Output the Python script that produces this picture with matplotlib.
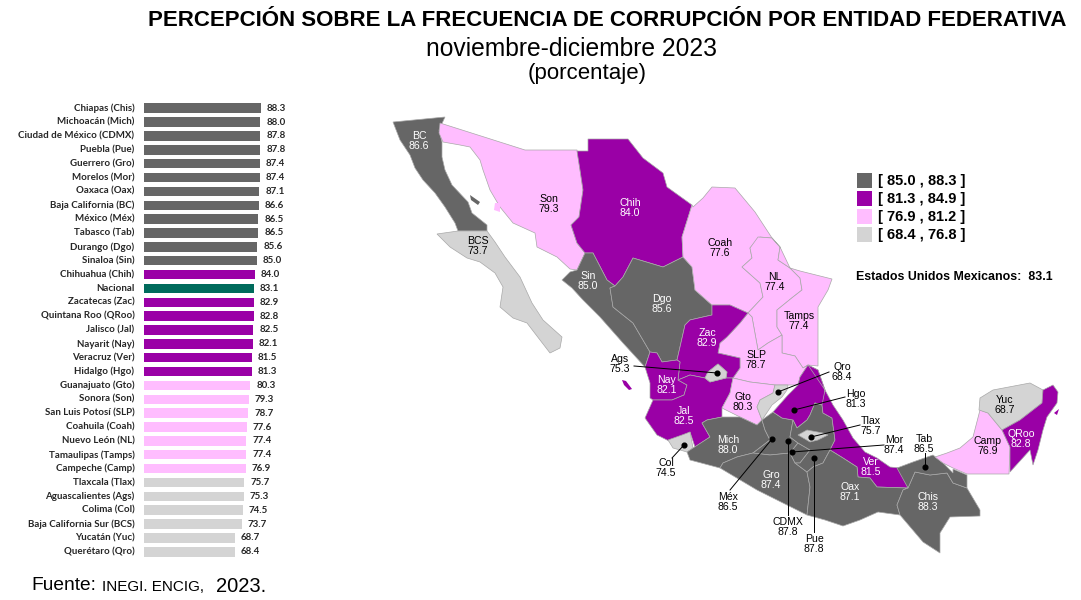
import matplotlib
matplotlib.use("Agg")
import matplotlib.pyplot as plt

plt.rcParams['font.family'] = ['Liberation Sans', 'DejaVu Sans']

# bar chart data
entidades = [
    'Chiapas (Chis)', 'Michoacán (Mich)', 'Ciudad de México (CDMX)', 'Puebla (Pue)',
    'Guerrero (Gro)', 'Morelos (Mor)', 'Oaxaca (Oax)', 'Baja California (BC)',
    'México (Méx)', 'Tabasco (Tab)', 'Durango (Dgo)', 'Sinaloa (Sin)',
    'Chihuahua (Chih)', 'Nacional', 'Zacatecas (Zac)', 'Quintana Roo (QRoo)',
    'Jalisco (Jal)', 'Nayarit (Nay)', 'Veracruz (Ver)', 'Hidalgo (Hgo)',
    'Guanajuato (Gto)', 'Sonora (Son)', 'San Luis Potosí (SLP)', 'Coahuila (Coah)',
    'Nuevo León (NL)', 'Tamaulipas (Tamps)', 'Campeche (Camp)', 'Tlaxcala (Tlax)',
    'Aguascalientes (Ags)', 'Colima (Col)', 'Baja California Sur (BCS)',
    'Yucatán (Yuc)', 'Querétaro (Qro)',
]
valores = [
    88.3, 88.0, 87.8, 87.8, 87.4, 87.4, 87.1, 86.6, 86.5, 86.5, 85.6, 85.0,
    84.0, 83.1, 82.9, 82.8, 82.5, 82.1, 81.5, 81.3, 80.3, 79.3, 78.7, 77.6,
    77.4, 77.4, 76.9, 75.7, 75.3, 74.5, 73.7, 68.7, 68.4,
]
nacional = 83.1
rangos = ['[ 85.0 , 88.3 ]', '[ 81.3 , 84.9 ]', '[ 76.9 , 81.2 ]', '[ 68.4 , 76.8 ]']
limites = [85.0, 81.3, 76.9, 68.4]
colores = ['#666666', '#9A00A6', '#FFBDFF', '#D4D4D4']
color_nacional = '#006B5C'

# map outlines (pixels)
contornos = {
    'BC': [(393,122),(445,117),(439,130),(442,142),(442,157),(445,170),(452,185),(468,202),(472,213),(487,225),(487,231),(458,231),(455,223),(445,207),(435,193),(423,180),(415,168),(410,155),(400,140)],
    'BCS': [(437,234),(458,231),(487,231),(495,242),(505,257),(520,277),(532,303),(543,320),(562,337),(560,348),(550,353),(540,340),(527,323),(513,318),(500,307),(503,287),(495,273),(480,262),(467,258),(450,247)],
    'Son': [(440,123),(525,150),(577,150),(580,170),(583,190),(579,217),(571,225),(577,243),(585,253),(577,270),(570,269),(557,257),(537,247),(535,233),(513,223),(500,207),(490,190),(483,170),(480,160),(470,147),(460,145),(443,142),(439,133)],
    'Chih': [(588,139),(628,139),(643,158),(663,173),(667,187),(692,205),(682,237),(683,257),(663,267),(633,258),(623,277),(615,286),(607,280),(593,253),(585,253),(577,243),(571,225),(579,217),(583,190),(580,170),(577,151),(588,151)],
    'Sin': [(593,253),(607,280),(615,286),(610,288),(613,307),(633,323),(650,352),(645,367),(623,343),(600,317),(583,300),(572,288),(562,280),(570,272),(577,270),(585,253)],
    'Dgo': [(615,286),(623,277),(633,258),(663,267),(683,257),(692,267),(695,290),(712,305),(712,315),(703,317),(690,320),(685,325),(680,347),(677,360),(662,362),(657,353),(650,352),(633,323),(613,307),(610,288)],
    'Coah': [(693,207),(703,198),(712,187),(735,188),(755,212),(772,238),(760,237),(750,248),(752,258),(742,267),(760,283),(763,297),(748,313),(730,305),(712,305),(695,290),(692,267),(683,257),(682,237),(692,205)],
    'NL': [(758,237),(772,238),(780,247),(778,260),(790,268),(800,278),(802,290),(793,297),(777,310),(777,327),(782,335),(768,343),(758,350),(752,317),(748,313),(763,297),(760,283),(742,267),(752,258),(750,248)],
    'Tamps': [(772,238),(780,247),(790,268),(800,271),(832,279),(828,290),(818,307),(818,350),(818,366),(808,365),(803,368),(795,356),(782,353),(782,335),(777,327),(777,310),(793,297),(802,290),(800,278),(790,268),(778,260),(780,247)],
    'SLP': [(748,313),(752,317),(758,350),(768,343),(782,335),(782,353),(795,356),(803,368),(808,365),(800,377),(798,385),(775,385),(750,382),(733,378),(740,368),(740,358),(718,353),(720,343),(727,337),(740,323)],
    'Zac': [(712,315),(712,305),(730,305),(748,313),(740,323),(727,337),(720,343),(718,353),(740,358),(740,368),(733,378),(726,378),(727,372),(718,364),(708,372),(705,378),(690,375),(678,380),(680,362),(677,360),(680,347),(685,325),(690,320),(703,317)],
    'Nay': [(650,352),(657,353),(662,362),(677,360),(680,362),(678,380),(687,385),(684,395),(672,400),(653,400),(650,398),(650,383),(645,367)],
    'Jal': [(645,418),(653,400),(672,400),(684,395),(687,385),(678,380),(690,375),(705,378),(710,382),(718,380),(726,378),(733,378),(730,393),(722,408),(722,417),(707,420),(702,423),(710,437),(695,447),(690,432),(673,443),(657,435)],
    'Ags': [(705,378),(708,372),(718,364),(727,372),(726,378),(718,380),(710,382)],
    'Col': [(668,440),(682,435),(690,432),(693,448),(687,452),(673,448)],
    'Gto': [(733,378),(750,382),(775,385),(773,393),(760,400),(757,407),(762,420),(757,425),(740,417),(722,408),(730,393)],
    'Qro': [(775,385),(788,385),(787,390),(782,397),(772,405),(762,420),(757,407),(760,400),(773,393)],
    'Mich': [(702,423),(707,420),(722,417),(740,417),(757,425),(762,420),(765,430),(770,440),(753,453),(737,457),(723,463),(720,468),(690,460),(687,452),(693,448),(710,437)],
    'Méx': [(762,420),(773,412),(782,418),(793,420),(790,437),(798,443),(790,453),(770,455),(753,453),(770,440),(765,430)],
    'Gro': [(720,468),(723,463),(737,457),(753,453),(770,455),(790,453),(795,463),(807,472),(810,487),(807,515),(757,490)],
    'Mor': [(790,453),(798,443),(810,450),(800,463),(795,463)],
    'Hgo': [(798,385),(800,377),(808,365),(818,370),(825,390),(823,405),(815,403),(810,415),(807,420),(797,428),(793,420),(782,418),(773,412),(788,395)],
    'Pue': [(815,403),(822,405),(823,413),(832,418),(835,440),(830,450),(823,463),(813,467),(807,472),(795,463),(800,463),(810,450),(798,443),(790,437),(793,420),(797,428),(807,420),(810,415)],
    'Tlax': [(798,435),(807,430),(823,433),(828,435),(818,440),(810,442)],
    'Ver': [(808,365),(818,370),(825,390),(833,405),(843,420),(853,438),(865,452),(877,458),(890,467),(900,468),(908,485),(907,488),(877,487),(870,478),(858,477),(857,467),(843,458),(830,450),(835,440),(832,418),(823,413),(822,405),(825,390)],
    'Oax': [(807,472),(813,467),(823,463),(830,450),(843,458),(857,467),(858,477),(870,478),(877,487),(907,488),(903,490),(897,505),(900,515),(878,512),(860,520),(843,526),(825,520),(807,515),(810,487)],
    'Chis': [(908,488),(915,472),(930,475),(947,473),(953,483),(967,488),(980,510),(980,516),(950,517),(940,533),(940,553),(923,542),(900,515),(897,505),(903,490)],
    'Tab': [(897,468),(913,462),(933,455),(943,463),(953,473),(953,469),(967,475),(967,488),(953,483),(947,473),(930,475),(915,472),(908,488)],
    'Camp': [(935,457),(947,453),(960,448),(973,437),(980,410),(988,413),(1002,430),(1010,447),(1009,474),(967,474),(953,468),(943,463)],
    'Yuc': [(979,410),(980,398),(993,390),(1030,383),(1043,390),(1042,403),(1020,420),(1002,430),(988,413)],
    'QRoo': [(1043,390),(1053,385),(1058,392),(1057,403),(1047,417),(1043,430),(1038,450),(1033,465),(1030,450),(1010,472),(1010,447),(1002,430),(1020,420),(1042,403)],
}
islas = {
    'BC': [[(470,195),(480,202),(478,205),(471,200)]],
    'Son': [[(495,203),(500,203),(500,212),(494,210)]],
    'Nay': [[(622,380),(626,381),(632,389),(629,390),(624,385)]],
    'QRoo': [[(1054,413),(1059,409),(1057,415)]],
}

# label: name, x, y of the two lines' centre, text colour
etiquetas = [
    ('BC', 'BC', 419, 141, 'w'), ('Son', 'Son', 549, 204, 'k'), ('Chih', 'Chih', 630, 208, 'w'),
    ('BCS', 'BCS', 478, 246, 'k'), ('Coah', 'Coah', 720, 248, 'k'), ('Sin', 'Sin', 588, 281, 'w'),
    ('Dgo', 'Dgo', 662, 304, 'w'), ('NL', 'NL', 775, 282, 'k'), ('Tamps', 'Tamps', 799, 321, 'k'),
    ('Zac', 'Zac', 707, 338, 'w'), ('SLP', 'SLP', 756, 360, 'k'), ('Ags', 'Ags', 620, 364, 'k'),
    ('Qro', 'Qro', 842, 372, 'k'), ('Nay', 'Nay', 667, 385, 'w'), ('Hgo', 'Hgo', 856, 399, 'k'),
    ('Gto', 'Gto', 743, 402, 'k'), ('Jal', 'Jal', 684, 416, 'w'), ('Tlax', 'Tlax', 871, 426, 'k'),
    ('Mich', 'Mich', 728, 445, 'w'), ('Mor', 'Mor', 894, 445, 'k'), ('Tab', 'Tab', 924, 444, 'k'),
    ('Ver', 'Ver', 871, 467, 'w'), ('Col', 'Col', 666, 468, 'k'), ('Gro', 'Gro', 771, 480, 'w'),
    ('Oax', 'Oax', 850, 492, 'w'), ('Chis', 'Chis', 928, 502, 'w'), ('Méx', 'Méx', 728, 502, 'k'),
    ('CDMX', 'CDMX', 788, 527, 'k'), ('Pue', 'Pue', 814, 544, 'k'), ('Yuc', 'Yuc', 1005, 405, 'k'),
    ('Camp', 'Camp', 988, 446, 'k'), ('QRoo', 'QRoo', 1021, 439, 'w'),
]
# leader lines: from the label to the dot on the state
lineas = [
    ((634,366),(717,373)), ((672,458),(684,445)), ((829,372),(778,392)), ((845,397),(794,410)),
    ((860,425),(811,437)), ((884,445),(792,452)), ((925,453),(925,467)), ((730,490),(772,439)),
    ((788,515),(788,441)), ((814,532),(814,458)),
]


def color_de(valor):
    for limite, color in zip(limites, colores):
        if valor >= limite:
            return color
    return colores[-1]


def valor_de(abrev):
    for nombre, valor in zip(entidades, valores):
        if nombre.endswith('(' + abrev + ')'):
            return valor
    return nacional


fig = plt.figure(figsize=(10.81, 6), dpi=100)

# full page axes in pixels for map and texts
ax = fig.add_axes([0, 0, 1, 1])
ax.set_xlim(0, 1081)
ax.set_ylim(600, 0)
ax.axis('off')

for abrev, puntos in contornos.items():
    xs, ys = zip(*puntos)
    ax.fill(xs, ys, facecolor=color_de(valor_de(abrev)), edgecolor='#A8A8A8', linewidth=0.5)
for abrev, grupos in islas.items():
    for puntos in grupos:
        xs, ys = zip(*puntos)
        ax.fill(xs, ys, facecolor=color_de(valor_de(abrev)), edgecolor='none')

for inicio, fin in lineas:
    ax.plot([inicio[0], fin[0]], [inicio[1], fin[1]], color='black', linewidth=0.7)
    ax.plot(fin[0], fin[1], 'o', color='black', markersize=3.4)

for abrev, nombre, x, y, color in etiquetas:
    ax.text(x, y, f'{nombre}\n{valor_de(abrev)}', color=color, fontsize=7.6, ha='center', va='center',
            linespacing=1.05, fontweight='normal')

# legend
for i, (rango, color) in enumerate(zip(rangos, colores)):
    y = 173 + i * 18
    ax.fill([857, 872, 872, 857], [y, y, y + 15, y + 15], facecolor=color, edgecolor='none')
    ax.text(878, y + 7.5, rango, fontsize=10.5, fontweight='bold', ha='left', va='center')
ax.text(856, 277, f'Estados Unidos Mexicanos:  {nacional}', fontsize=8.9, fontweight='bold', ha='left', va='center')

# titles
ax.text(607, 20, 'PERCEPCIÓN SOBRE LA FRECUENCIA DE CORRUPCIÓN POR ENTIDAD FEDERATIVA',
        fontsize=16, fontweight='bold', ha='center', va='center')
ax.text(572, 49, 'noviembre-diciembre 2023', fontsize=17.7, ha='center', va='center')
ax.text(587, 74, '(porcentaje)', fontsize=16, ha='center', va='center')

# source line
ax.text(31, 586, 'Fuente:', fontsize=13.8, ha='left', va='center')
ax.text(102, 587, 'INEGI. ENCIG,', fontsize=11, ha='left', va='center')
ax.text(216, 586, '2023.', fontsize=14.5, ha='left', va='center')

# bars, 1.32 px per percentage point
ax_b = fig.add_axes([144.3 / 1081, 1 - 559 / 600, 132 / 1081, 458 / 600])
ax_b.set_xlim(0, 100)
ax_b.set_ylim(len(entidades) - 0.5 + 0.02, -0.5 - 0.02)
ax_b.axis('off')
pos = list(range(len(entidades)))
colores_barras = [color_nacional if n == 'Nacional' else color_de(v) for n, v in zip(entidades, valores)]
ax_b.barh(pos, valores, height=0.68, color=colores_barras)
for p, nombre, valor in zip(pos, entidades, valores):
    ax_b.text(valor + 4.5, p, f'{valor}', fontsize=7, family=['Lato', 'DejaVu Sans'], fontweight='bold',
              color='#262626', ha='left', va='center', clip_on=False)
    ax_b.text(-7.5, p, nombre, fontsize=7, family=['Lato', 'DejaVu Sans'], fontweight='bold',
              color='#262626', ha='right', va='center', clip_on=False)

fig.savefig('out.png', dpi=100)
